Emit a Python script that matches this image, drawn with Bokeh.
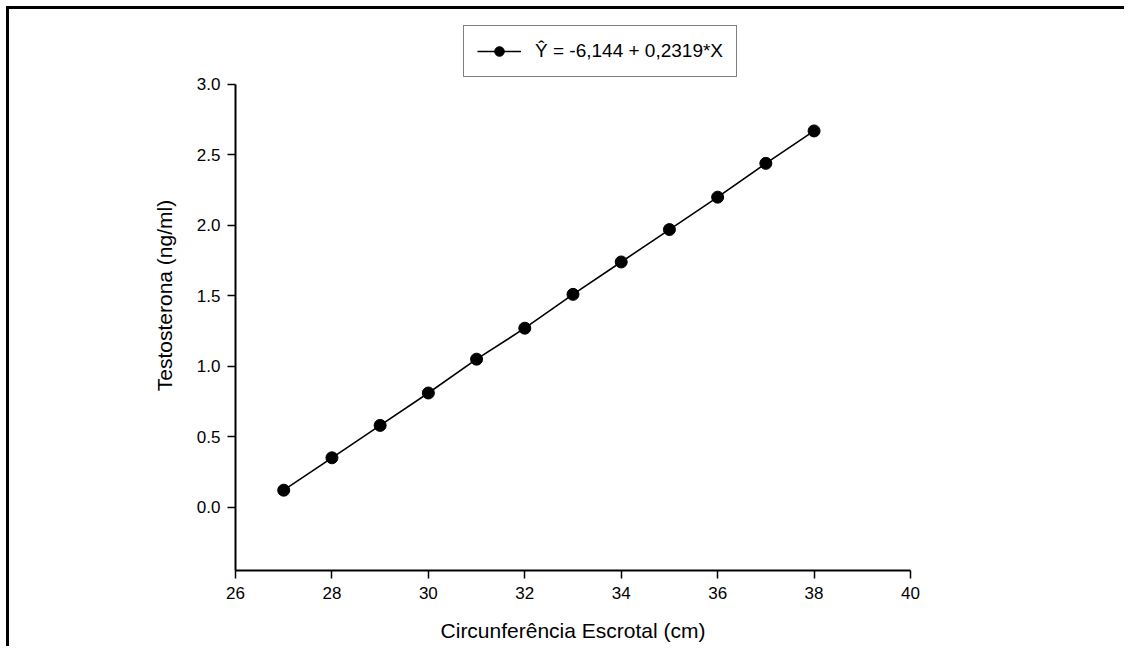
from bokeh.plotting import figure
from bokeh.models import Range1d, FixedTicker, Legend, LegendItem, NumeralTickFormatter
from bokeh.embed import file_html
from bokeh.resources import INLINE

# ---- data ----
x_cm = [27, 28, 29, 30, 31, 32, 33, 34, 35, 36, 37, 38]
y_testo = [0.12, 0.35, 0.58, 0.81, 1.05, 1.27, 1.51, 1.74, 1.97, 2.20, 2.44, 2.67]
x_ticks = [26, 28, 30, 32, 34, 36, 38, 40]
y_ticks = [0.0, 0.5, 1.0, 1.5, 2.0, 2.5, 3.0]
legend_label = "Ŷ = -6,144 + 0,2319*X"
x_title = "Circunferência Escrotal (cm)"
y_title = "Testosterona (ng/ml)"

FONT = "Liberation Sans"

# y axis line spans -0.45..3.0; the frame extends above it to hold the legend
p = figure(width=1118, height=640, output_backend="svg", toolbar_location=None,
           x_range=Range1d(26, 40), y_range=Range1d(-0.45, 3.454),
           min_border_left=226, min_border_right=217, min_border_top=11, min_border_bottom=79)
p.styles = {"border-top": "3px solid black", "border-left": "3px solid black",
            "margin-left": "6px", "margin-top": "6px"}
p.outline_line_color = None
p.grid.visible = False
p.background_fill_color = "white"
p.border_fill_color = "white"

ln = p.line(x_cm, y_testo, line_color="black", line_width=1.6)
sc = p.scatter(x_cm, y_testo, size=12, fill_color="black", line_color="black")

for ax in (p.xaxis[0], p.yaxis[0]):
    ax.axis_line_width = 2
    ax.axis_line_color = "black"
    ax.major_tick_line_width = 1.5
    ax.major_tick_out = 8
    ax.major_tick_in = 0
    ax.minor_tick_line_color = None
    ax.major_label_text_font = FONT
    ax.major_label_text_font_size = "17px"
    ax.major_label_text_color = "black"
    ax.axis_label_text_font = FONT
    ax.axis_label_text_font_size = "21px"
    ax.axis_label_text_font_style = "normal"
    ax.axis_label_text_color = "black"

p.yaxis.bounds = (-0.45, 3.0)
p.xaxis.ticker = FixedTicker(ticks=x_ticks)
p.yaxis.ticker = FixedTicker(ticks=y_ticks)
p.yaxis.formatter = NumeralTickFormatter(format="0.0")
p.xaxis.axis_label = x_title
p.yaxis.axis_label = y_title
p.xaxis.major_label_standoff = 8
p.yaxis.major_label_standoff = 7
p.xaxis.axis_label_standoff = 17
p.yaxis.axis_label_standoff = 18

legend = Legend(items=[LegendItem(label=legend_label, renderers=[ln, sc])],
                location=(228, 493), orientation="vertical",
                border_line_color="black", border_line_width=1.5,
                background_fill_color="white", background_fill_alpha=1,
                padding=13, margin=0, spacing=0,
                glyph_width=44, glyph_height=24, label_standoff=14,
                label_text_font=FONT, label_text_font_size="19px", label_text_color="black")
p.add_layout(legend, "center")

open("out.html", "w").write(file_html(p, INLINE))
